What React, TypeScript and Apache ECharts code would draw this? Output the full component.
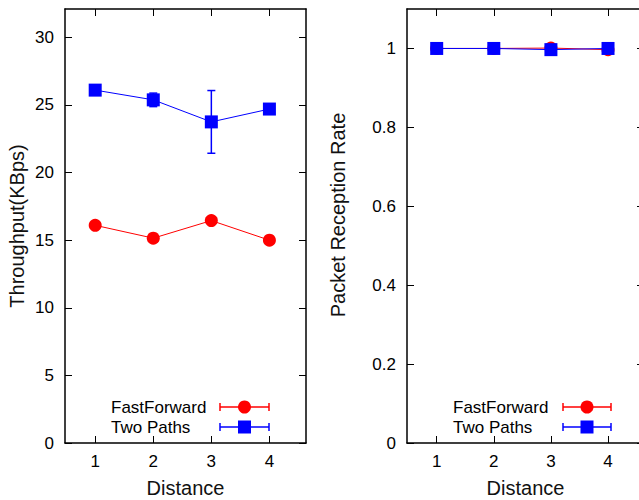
import React, { useEffect, useRef } from "react";
import * as echarts from "echarts";

const distances = [1, 2, 3, 4];
const ffThroughput = [16.1, 15.15, 16.45, 15.0];
const ffThroughputErr = [0.2, 0.2, 0.2, 0.2];
const tpThroughput = [26.1, 25.38, 23.75, 24.7];
const tpThroughputErr = [0.2, 0.5, 2.32, 0.2];
const ffPrr = [1.0, 1.0, 1.001, 0.997];
const ffPrrErr = [0.002, 0.002, 0.002, 0.002];
const tpPrr = [1.0, 1.0, 0.997, 1.0];
const tpPrrErr = [0.002, 0.002, 0.002, 0.002];
const throughputTicks = [0, 5, 10, 15, 20, 25, 30];
const prrTicks = [0, 0.2, 0.4, 0.6, 0.8, 1];
const seriesNames = ["FastForward", "Two Paths"];

const RED = "#ff0000";
const BLUE = "#0000ff";
const FONT = "'Liberation Sans', Arial, sans-serif";

const pts = (ys: number[]) => distances.map((x, i) => [x, ys[i]]);
const errPts = (ys: number[], es: number[]) => distances.map((x, i) => [x, ys[i], es[i]]);

function errSeries(data: number[][], color: string, xi: number, yi: number) {
  return {
    type: "custom",
    xAxisIndex: xi,
    yAxisIndex: yi,
    z: 1,
    silent: true,
    encode: { x: 0, y: 1 },
    data,
    renderItem: (_p: any, api: any) => {
      const x = api.value(0);
      const y = api.value(1);
      const e = api.value(2);
      const t = api.coord([x, y + e]);
      const b = api.coord([x, y - e]);
      const hw = 4;
      const st = { stroke: color, lineWidth: 1.5 };
      return {
        type: "group",
        children: [
          { type: "line", shape: { x1: t[0], y1: t[1], x2: b[0], y2: b[1] }, style: st },
          { type: "line", shape: { x1: t[0] - hw, y1: t[1], x2: t[0] + hw, y2: t[1] }, style: st },
          { type: "line", shape: { x1: b[0] - hw, y1: b[1], x2: b[0] + hw, y2: b[1] }, style: st },
        ],
      };
    },
  };
}

function lineSeries(name: string, data: number[][], color: string, symbol: string, xi: number, yi: number, z: number) {
  return {
    type: "line",
    name,
    xAxisIndex: xi,
    yAxisIndex: yi,
    data,
    symbol,
    symbolSize: 13,
    z,
    itemStyle: { color },
    lineStyle: { color, width: 1 },
  };
}

function legendSample(x1: number, x2: number, y: number, color: string, square: boolean) {
  const st = { stroke: color, lineWidth: 1.5 };
  const cx = (x1 + x2) / 2;
  return [
    { type: "line", shape: { x1, y1: y, x2, y2: y }, style: st },
    { type: "line", shape: { x1, y1: y - 4, x2: x1, y2: y + 4 }, style: st },
    { type: "line", shape: { x1: x2, y1: y - 4, x2, y2: y + 4 }, style: st },
    square
      ? { type: "rect", shape: { x: cx - 6.5, y: y - 6.5, width: 13, height: 13 }, style: { fill: color } }
      : { type: "circle", shape: { cx, cy: y, r: 6.5 }, style: { fill: color } },
  ];
}

function legendGroup(textX: number, sx1: number, sx2: number) {
  const y1 = 407;
  const y2 = 427;
  return [
    { type: "text", x: textX, y: y1, style: { text: seriesNames[0], fill: "#000", font: `17px ${FONT}`, verticalAlign: "middle", align: "left" } },
    { type: "text", x: textX, y: y2, style: { text: seriesNames[1], fill: "#000", font: `17px ${FONT}`, verticalAlign: "middle", align: "left" } },
    ...legendSample(sx1, sx2, y1, RED, false),
    ...legendSample(sx1, sx2, y2, BLUE, true),
  ];
}

const axisLineStyle = { show: true, onZero: false, lineStyle: { color: "#000", width: 1.5 } };

function xAxes(grid: number) {
  const base = {
    type: "value",
    gridIndex: grid,
    min: 0.48,
    max: 4.63,
    splitLine: { show: false },
    axisLine: axisLineStyle,
  };
  return [
    {
      ...base,
      position: "bottom",
      name: "Distance",
      nameLocation: "middle",
      nameGap: 35,
      nameTextStyle: { fontFamily: FONT, fontSize: 20, color: "#111" },
      axisTick: { show: true, inside: true, length: 7, customValues: distances, lineStyle: { color: "#000", width: 1 } },
      axisLabel: { show: true, margin: 10, customValues: distances, fontFamily: FONT, fontSize: 17, color: "#000" },
    },
    {
      ...base,
      position: "top",
      axisTick: { show: true, inside: true, length: 7, customValues: distances, lineStyle: { color: "#000", width: 1 } },
      axisLabel: { show: false },
    },
  ];
}

function yAxes(grid: number, max: number, ticks: number[], name: string, nameGap: number, namePad: number[]) {
  const base = {
    type: "value",
    gridIndex: grid,
    min: 0,
    max,
    splitLine: { show: false },
    axisLine: axisLineStyle,
  };
  return [
    {
      ...base,
      position: "left",
      name,
      nameLocation: "middle",
      nameGap,
      nameTextStyle: { fontFamily: FONT, fontSize: 20, color: "#111", padding: namePad },
      axisTick: { show: true, inside: true, length: 7, customValues: ticks, lineStyle: { color: "#000", width: 1 } },
      axisLabel: { show: true, margin: 11, customValues: ticks, fontFamily: FONT, fontSize: 17, color: "#000" },
    },
    {
      ...base,
      position: "right",
      axisTick: { show: true, inside: true, length: 7, customValues: ticks, lineStyle: { color: "#000", width: 1 } },
      axisLabel: { show: false },
    },
  ];
}

export default function App() {
  const ref = useRef<HTMLDivElement>(null);
  useEffect(() => {
    if (!ref.current) return;
    const chart = echarts.init(ref.current, null, { renderer: "svg" });
    chart.setOption({
      animation: false,
      backgroundColor: "#fff",
      grid: [
        { left: 65, top: 9, width: 241, bottom: 57, outerBoundsMode: "none", containLabel: false },
        { left: 407, top: 9, right: -5, bottom: 57, outerBoundsMode: "none", containLabel: false },
      ],
      xAxis: [...xAxes(0), ...xAxes(1)],
      yAxis: [
        ...yAxes(0, 32.1, throughputTicks, "Throughput(KBps)", 38, [0, 0, 0, 0]),
        ...yAxes(1, 1.1, prrTicks, "Packet Reception Rate", 59, [0, 0, 0, 22]),
      ],
      series: [
        errSeries(errPts(ffThroughput, ffThroughputErr), RED, 0, 0),
        errSeries(errPts(tpThroughput, tpThroughputErr), BLUE, 0, 0),
        lineSeries(seriesNames[0], pts(ffThroughput), RED, "circle", 0, 0, 2),
        lineSeries(seriesNames[1], pts(tpThroughput), BLUE, "rect", 0, 0, 3),
        errSeries(errPts(ffPrr, ffPrrErr), RED, 2, 2),
        lineSeries(seriesNames[0], pts(ffPrr), RED, "circle", 2, 2, 2),
        errSeries(errPts(tpPrr, tpPrrErr), BLUE, 2, 2),
        lineSeries(seriesNames[1], pts(tpPrr), BLUE, "rect", 2, 2, 3),
      ],
      graphic: [
        { type: "group", children: [...legendGroup(111, 220, 269), ...legendGroup(453, 563, 611)] },
      ],
    });
    return () => chart.dispose();
  }, []);
  return (
    <div
      ref={ref}
      style={{ position: "fixed", left: 0, top: 0, width: 639, height: 500, background: "#fff" }}
    />
  );
}
